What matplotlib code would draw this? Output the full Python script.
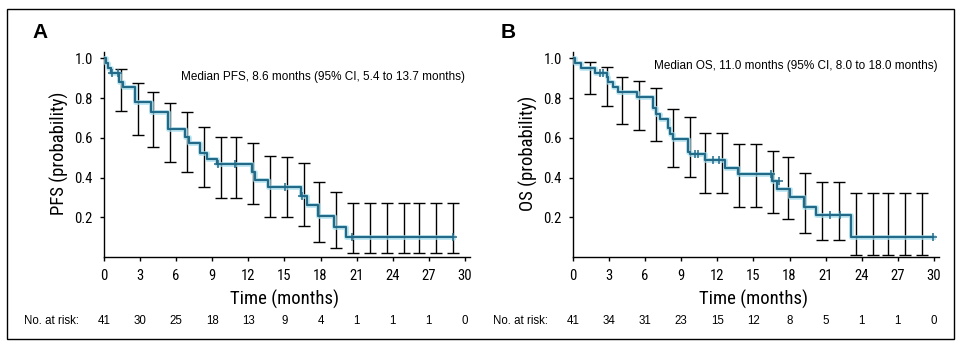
import matplotlib
matplotlib.use("Agg")
import matplotlib.pyplot as plt
import matplotlib.transforms as mtransforms
from matplotlib.patches import Rectangle

plt.rcParams['font.family'] = ['Roboto Condensed', 'DejaVu Sans']
SMALL = ['Liberation Sans', 'DejaVu Sans']

# ---------------- data ----------------
pfs_times = [0, 0.14, 0.36, 0.56, 1.27, 1.6, 2.58, 3.9, 5.35, 6.73, 7.07, 7.98, 8.6,
             9.37, 12.27, 12.55, 13.66, 16.4, 16.85, 17.78, 19.15, 20.15, 29.0]
pfs_surv = [1.0, 0.976, 0.951, 0.927, 0.88, 0.855, 0.779, 0.729, 0.645, 0.603, 0.573,
            0.522, 0.492, 0.468, 0.43, 0.388, 0.352, 0.308, 0.262, 0.207, 0.153, 0.102, 0.102]
pfs_censor_t = [0.64, 1.14, 9.45, 10.85, 15.05, 16.45, 20.6, 29.0]
pfs_censor_s = [0.927, 0.927, 0.468, 0.468, 0.352, 0.308, 0.102, 0.102]

os_times = [0, 0.17, 0.64, 1.83, 2.8, 2.95, 3.35, 3.77, 5.3, 6.68, 6.87, 7.23, 7.92, 8.1,
            8.3, 9.6, 9.75, 10.97, 12.65, 13.74, 16.57, 16.98, 18.0, 19.2, 20.2, 23.08, 29.95]
os_surv = [1.0, 0.976, 0.951, 0.927, 0.906, 0.884, 0.858, 0.83, 0.805, 0.749, 0.72, 0.695,
           0.648, 0.618, 0.594, 0.53, 0.519, 0.489, 0.45, 0.418, 0.383, 0.341, 0.30, 0.253,
           0.212, 0.102, 0.102]
os_censor_t = [2.24, 2.52, 10.1, 10.4, 11.6, 12.1, 16.45, 17.1, 21.4, 22.2, 29.95]
os_censor_s = [0.927, 0.927, 0.519, 0.519, 0.489, 0.489, 0.418, 0.383, 0.212, 0.212, 0.102]

ci_times = [1.4, 2.8, 4.1, 5.5, 6.9, 8.3, 9.7, 11.0, 12.4, 13.8, 15.2, 16.6, 17.9, 19.3,
            20.7, 22.1, 23.5, 24.9, 26.2, 27.6, 29.0]
pfs_ci_lo = [0.736, 0.615, 0.556, 0.477, 0.427, 0.351, 0.296, 0.296, 0.265, 0.200, 0.203,
             0.158, 0.074, 0.044, 0.019, 0.019, 0.019, 0.019, 0.019, 0.019, 0.019]
pfs_ci_hi = [0.949, 0.875, 0.833, 0.774, 0.729, 0.657, 0.606, 0.606, 0.576, 0.510, 0.505,
             0.472, 0.376, 0.326, 0.270, 0.270, 0.270, 0.270, 0.270, 0.270, 0.270]
os_ci_lo = [0.821, 0.762, 0.668, 0.640, 0.584, 0.453, 0.403, 0.321, 0.321, 0.253, 0.253,
            0.223, 0.191, 0.119, 0.086, 0.086, 0.010, 0.010, 0.010, 0.010, 0.010]
os_ci_hi = [0.984, 0.959, 0.908, 0.888, 0.853, 0.748, 0.704, 0.626, 0.626, 0.568, 0.568,
            0.536, 0.502, 0.422, 0.376, 0.376, 0.324, 0.324, 0.324, 0.324, 0.324]

risk_times = [0, 3, 6, 9, 12, 15, 18, 21, 24, 27, 30]
pfs_at_risk = [41, 30, 25, 18, 13, 9, 4, 1, 1, 1, 0]
os_at_risk = [41, 34, 31, 23, 15, 12, 8, 5, 1, 1, 0]

y_ticks = [0.2, 0.4, 0.6, 0.8, 1.0]
y_tick_labels = ['0.2', '0.4', '0.6', '0.8', '1.0']

pfs_note = 'Median PFS, 8.6 months (95% CI, 5.4 to 13.7 months)'
os_note = 'Median OS, 11.0 months (95% CI, 8.0 to 18.0 months)'

# ---------------- figure ----------------
W, H = 964, 349
fig = plt.figure(figsize=(W / 100, H / 100), dpi=100)

LINE = '#226a88'
GLOW = '#a8e0ef'


def px_axes(left, right, bottom, top):
    return fig.add_axes([left / W, 1 - bottom / H, (right - left) / W, (bottom - top) / H])


def panel(ax, times, surv, ct, cs, lo, hi, ylabel, ylabel_x, note, note_xy, letter,
          letter_x, risk, risk_label_x):
    ax.set_xlim(0, 30.45)
    ax.set_ylim(0, 1.033)
    for s in ['top', 'right']:
        ax.spines[s].set_visible(False)
    for s in ['left', 'bottom']:
        ax.spines[s].set_linewidth(1.0)
    ax.set_xticks(risk_times)
    ax.set_xticklabels([str(t) for t in risk_times], fontsize=10.5)
    ax.set_yticks(y_ticks)
    ax.set_yticklabels(y_tick_labels, fontsize=10.5)
    ax.tick_params(axis='x', length=3, width=1, pad=6)
    ax.tick_params(axis='y', length=3, width=1, pad=5)
    # CI bars
    mid = [(a + b) / 2 for a, b in zip(lo, hi)]
    yerr = [[m - a for m, a in zip(mid, lo)], [b - m for m, b in zip(mid, hi)]]
    ax.errorbar(ci_times, mid, yerr=yerr, fmt='none', ecolor='black', elinewidth=1.0,
                capsize=4.5, capthick=1.0, zorder=2)
    # KM curve
    ax.step(times, surv, where='post', color=GLOW, lw=3.6, alpha=0.7, zorder=3)
    ax.step(times, surv, where='post', color=LINE, lw=1.6, zorder=4)
    ax.plot(ct, cs, linestyle='none', marker='+', markersize=6, mew=1.1, color=LINE,
            zorder=5)
    fig.text(ylabel_x / W, 1 - 153 / H, ylabel, fontsize=13.5, rotation=90,
             ha='center', va='center')
    fig.text(note_xy[0], note_xy[1], note, fontsize=8.5, family=SMALL,
             va='center', ha='left')
    fig.text(letter_x / W, 1 - 32 / H, letter, fontsize=15, fontweight='bold',
             family=SMALL, ha='center', va='center')
    # x label and numbers at risk
    tr_x = mtransforms.blended_transform_factory(ax.transData, fig.transFigure)
    ax.text(15, 1 - 299 / H, 'Time (months)', fontsize=13.5, transform=tr_x,
            ha='center', va='center')
    for t, n in zip(risk_times, risk):
        ax.text(t, 1 - 321 / H, str(n), fontsize=8.3, transform=tr_x, ha='center',
                va='center', family=SMALL)
    fig.text(risk_label_x / W, 1 - 321 / H, 'No. at risk:', fontsize=8.3,
             family=SMALL, ha='left', va='center')


axA = px_axes(104, 104 + 30.45 * 12.03, 257, 257 - 1.033 * 198.5)
panel(axA, pfs_times, pfs_surv, pfs_censor_t, pfs_censor_s, pfs_ci_lo, pfs_ci_hi,
      'PFS (probability)', 59, pfs_note, (181 / W, 1 - 77 / H), 'A', 40, pfs_at_risk, 24)

axB = px_axes(573, 573 + 30.45 * 12.03, 257, 257 - 1.033 * 198.5)
panel(axB, os_times, os_surv, os_censor_t, os_censor_s, os_ci_lo, os_ci_hi,
      'OS (probability)', 528, os_note, (654 / W, 1 - 66 / H), 'B', 508, os_at_risk, 493)

fig.add_artist(Rectangle((7 / W, 1 - 339 / H), (954 - 7) / W, (339 - 9) / H,
                         transform=fig.transFigure, fill=False, edgecolor='black', lw=1.0))

fig.savefig('out.png', dpi=100, facecolor='white')
